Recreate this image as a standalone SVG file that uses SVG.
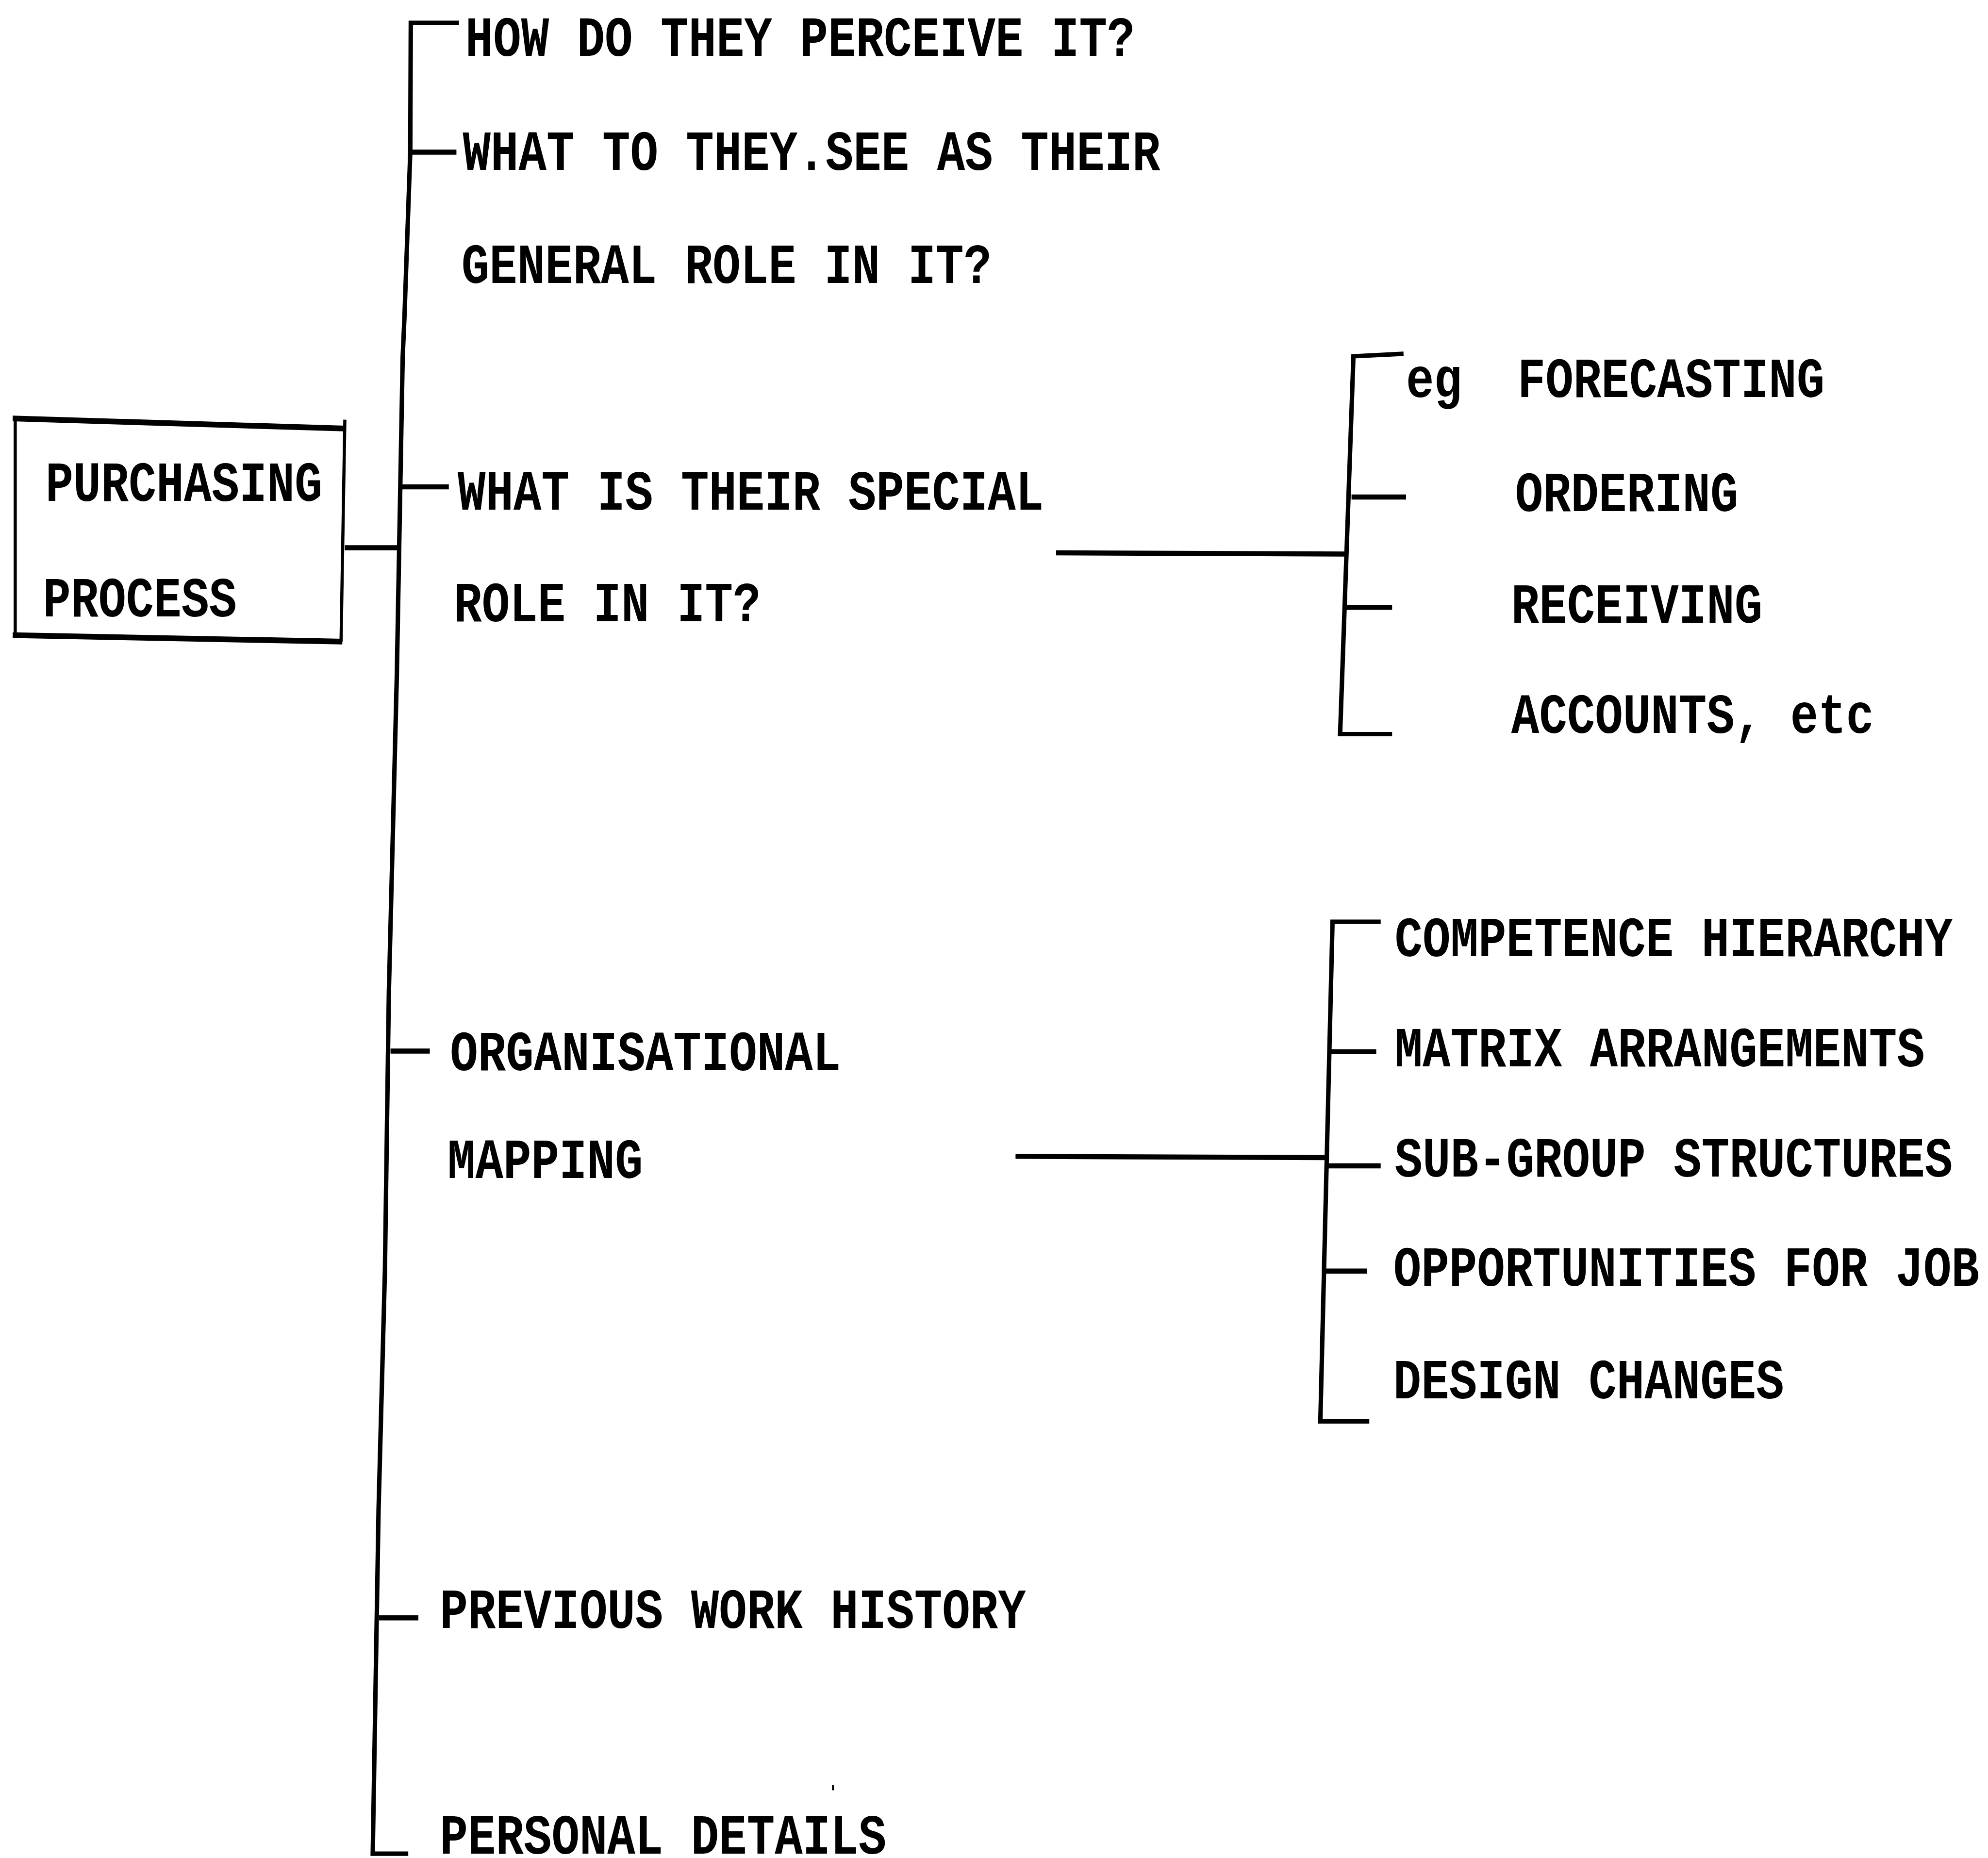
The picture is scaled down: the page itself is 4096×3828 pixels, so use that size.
<svg xmlns="http://www.w3.org/2000/svg" width="4096" height="3828" viewBox="0 0 4096 3828">
<style>
.t{font-family:"Liberation Mono","DejaVu Sans Mono",monospace;font-weight:bold;font-size:45px;fill:#000}
.c{fill:none;stroke:#000;stroke-width:3.5;stroke-linecap:butt;stroke-linejoin:miter}
.d{fill:none;stroke:#000;stroke-width:4}
</style>
<rect width="4096" height="3828" fill="#fff"/>
<g transform="scale(2.61224)">
<g id="root">
<path d="M12,330 L12,501" class="c" style="stroke-width:2.5"/>
<path d="M272,331 L269,506" class="c" style="stroke-width:2.5"/>
<path d="M10,330 L272,338" class="c" style="stroke-width:4.5"/>
<path d="M10,501 L270,506" class="c" style="stroke-width:4.5"/>
<text class="t" transform="translate(36,395) scale(0.808,1)">PURCHASING</text>
<text class="t" transform="translate(34,486) scale(0.808,1)">PROCESS</text>
</g>
<g id="connectors">
<path class="c" d="M362,18 L324,18 L323.6,120 L319,250 L317.6,282 L313,532 L306.7,783 L303.6,1002 L298.6,1190 L294,1462 L322,1462"/>
<path class="d" d="M272,432 L316,432"/>
<path class="d" d="M324,120 L360,120"/>
<path class="d" d="M317,384 L354,384"/>
<path class="d" d="M308,829 L339,829"/>
<path class="d" d="M299,1276 L330,1276"/>
<path class="d" d="M833,436 L1062,437"/>
<path class="c" d="M1107,279 L1067.5,281 L1057,579 L1098,579"/>
<path class="d" d="M1066,392 L1109,392"/>
<path class="d" d="M1062,479 L1098,479"/>
<path class="d" d="M801,912 L1046,913"/>
<path class="c" d="M1089,727 L1051,727 L1041.4,1121 L1080,1121"/>
<path class="d" d="M1049.5,829.5 L1085.5,829.5"/>
<path class="d" d="M1045.8,919.5 L1089,919.5"/>
<path class="d" d="M1044,1002.5 L1078,1002.5"/>
<path d="M657,1408 L657,1412" stroke="#000" stroke-width="1.5"/>
</g>
<g id="n-perceive"><text class="t" transform="translate(367,44) scale(0.815,1)">HOW DO THEY PERCEIVE IT?</text></g>
<g id="n-general">
<text class="t" transform="translate(365,134) scale(0.815,1)">WHAT TO THEY.SEE AS THEIR</text>
<text class="t" transform="translate(364,223) scale(0.815,1)">GENERAL ROLE IN IT?</text>
</g>
<g id="n-special">
<text class="t" transform="translate(361,402) scale(0.815,1)">WHAT IS THEIR SPECIAL</text>
<text class="t" transform="translate(358,490) scale(0.815,1)">ROLE IN IT?</text>
</g>
<g id="n-org">
<text class="t" transform="translate(355,844) scale(0.815,1)">ORGANISATIONAL</text>
<text class="t" transform="translate(353,929) scale(0.815,1)">MAPPING</text>
</g>
<g id="n-previous"><text class="t" transform="translate(347,1284) scale(0.815,1)">PREVIOUS WORK HISTORY</text></g>
<g id="n-personal"><text class="t" transform="translate(347,1462) scale(0.815,1)">PERSONAL DETAILS</text></g>
<g id="n-forecasting">
<text class="t" transform="translate(1109,313) scale(0.815,1)">eg</text>
<text class="t" transform="translate(1197,313) scale(0.815,1)">FORECASTING</text>
</g>
<g id="n-ordering"><text class="t" transform="translate(1195,403) scale(0.815,1)">ORDERING</text></g>
<g id="n-receiving"><text class="t" transform="translate(1192,491) scale(0.815,1)">RECEIVING</text></g>
<g id="n-accounts"><text class="t" transform="translate(1192,578) scale(0.815,1)">ACCOUNTS, etc</text></g>
<g id="n-competence"><text class="t" transform="translate(1100,754) scale(0.815,1)">COMPETENCE HIERARCHY</text></g>
<g id="n-matrix"><text class="t" transform="translate(1100,841) scale(0.815,1)">MATRIX ARRANGEMENTS</text></g>
<g id="n-subgroup"><text class="t" transform="translate(1100,928) scale(0.815,1)">SUB-GROUP STRUCTURES</text></g>
<g id="n-opportunities">
<text class="t" transform="translate(1099,1014) scale(0.815,1)">OPPORTUNITIES FOR JOB</text>
<text class="t" transform="translate(1099,1103) scale(0.815,1)">DESIGN CHANGES</text>
</g>
</g>
</svg>
